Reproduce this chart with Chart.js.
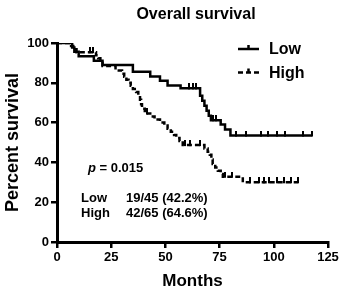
<!DOCTYPE html>
<html>
<head>
<meta charset="utf-8">
<script src="https://cdn.jsdelivr.net/npm/chart.js@4"></script>
<style>
  body { margin: 0; background: #fff; }
  canvas { display: block; }
</style>
</head>
<body>
<canvas id="chartSurvival" width="344" height="292"></canvas>
<script>
const FONT = "'Liberation Sans', Arial, sans-serif";

// Kaplan-Meier steps
const lowMonths = [0, 7, 8, 10, 17, 21, 35, 43, 47.5, 51, 57, 66, 67, 68, 69, 70, 71, 75.5, 77.5, 80, 117.5];
const lowSurvival = [100, 97.8, 95.6, 93.3, 91.1, 88.9, 85.6, 83.2, 81, 78.7, 77.2, 73.5, 71, 68.5, 66, 63.5, 61.2, 59, 56.5, 53.5, 53.5];
const lowCensorMonths = [61, 62.5, 64, 72, 73.5, 82.5, 87, 94, 97.5, 101.5, 105, 113.5, 117.5];

const highMonths = [0, 6.5, 7.5, 9, 18, 19, 20, 21, 27, 30, 31, 32, 33, 34, 35, 36.5, 37.5, 38.3, 38.8, 39.2,
  40.5, 43, 45, 47.5, 49.5, 51, 52.5, 54, 55, 56.5, 58, 68, 69.5, 70.5, 71.2, 71.8, 73, 74.2, 75.5, 76.5, 85.7, 111];
const highSurvival = [100, 98.5, 96.9, 95.4, 93.8, 92.3, 90.8, 88.5, 86.2, 84.6, 83.1, 81.5, 80, 78.5, 76.9, 75.4, 73.8, 71.5, 69.2, 66.9,
  64.6, 63.1, 61.5, 60, 58.5, 56.9, 55.4, 53.8, 52.3, 50.8, 48.7, 47, 45.4, 43.8, 41.5, 39.2, 37.5, 35.8, 34.2, 32.8, 30, 30];
const highCensorMonths = [15, 16.5, 41.5, 59, 61.5, 66, 77.5, 80.5, 89, 93, 95.5, 98, 101.5, 104.5, 108, 111];

const groupNames = ['Low', 'High'];
const groupCounts = ['19/45 (42.2%)', '42/65 (64.6%)'];
const pValue = '0.015';

function toPoints(xs, ys) {
  return xs.map((x, i) => ({x: x, y: ys[i]}))
}

function survivalAt(months, surv, t) {
  let v = surv[0]
  for (var i = 0; i < months.length; i++) {
    if (months[i] <= t) v = surv[i]
  }
  return v
}

function censorPoints(censor, months, surv) {
  return censor.map(t => ({x: t, y: survivalAt(months, surv, t)}))
}

// censor mark: a short tick pointing up from the curve
const tickMark = document.createElement('canvas')
tickMark.width = 2
tickMark.height = 10
const tctx = tickMark.getContext('2d')
tctx.fillStyle = '#000'
tctx.fillRect(0, 0, 2, 6)

const textPlugin = {
  id: 'survivalText',
  afterDraw(chart) {
    const ctx = chart.ctx
    const area = chart.chartArea
    ctx.save()
    ctx.fillStyle = '#000'
    ctx.strokeStyle = '#000'

    // title
    ctx.font = 'bold 16px ' + FONT
    ctx.textAlign = 'center'
    ctx.textBaseline = 'middle'
    ctx.fillText('Overall survival', 196, 15)

    // axis titles
    ctx.font = 'bold 17px ' + FONT
    ctx.fillText('Months', (area.left + area.right) / 2, 281)
    ctx.save()
    ctx.translate(13, (area.top + area.bottom) / 2)
    ctx.rotate(-Math.PI / 2)
    ctx.font = 'bold 18px ' + FONT
    ctx.fillText('Percent survival', 0, 0)
    ctx.restore()

    // legend
    ctx.lineWidth = 2.5
    ctx.textAlign = 'left'
    const rows = [49, 72.5]
    rows.forEach((y, i) => {
      ctx.setLineDash(i === 0 ? [] : [5, 3])
      ctx.beginPath()
      ctx.moveTo(238, y)
      ctx.lineTo(259, y)
      ctx.stroke()
      ctx.setLineDash([])
      ctx.beginPath()
      ctx.moveTo(248.5, y - 4)
      ctx.lineTo(248.5, y)
      ctx.stroke()
      ctx.font = 'bold 16px ' + FONT
      ctx.fillText(groupNames[i], 269, y + 1)
    })

    // p value and counts
    ctx.font = 'italic bold 13px ' + FONT
    ctx.fillText('p', 88, 168)
    const pw = ctx.measureText('p').width
    ctx.font = 'bold 13px ' + FONT
    ctx.fillText(' = ' + pValue, 88 + pw, 168)
    ctx.fillText(groupNames[0], 81, 198)
    ctx.fillText(groupCounts[0], 126, 198)
    ctx.fillText(groupNames[1], 81, 213)
    ctx.fillText(groupCounts[1], 126, 213)
    ctx.restore()
  }
}

const tickFont = {family: FONT, size: 13, weight: 'bold'}

new Chart(document.getElementById('chartSurvival'), {
  type: 'line',
  data: {
    datasets: [
      {
        label: 'Low',
        data: toPoints(lowMonths, lowSurvival),
        borderColor: '#000',
        borderWidth: 2.5,
        stepped: 'before',
        pointRadius: 0,
        fill: false
      },
      {
        label: 'High',
        data: toPoints(highMonths, highSurvival),
        borderColor: '#000',
        borderWidth: 2.5,
        borderDash: [5, 3],
        stepped: 'before',
        pointRadius: 0,
        fill: false
      },
      {
        label: 'Low censored',
        data: censorPoints(lowCensorMonths, lowMonths, lowSurvival),
        showLine: false,
        pointStyle: tickMark,
        pointRadius: 4
      },
      {
        label: 'High censored',
        data: censorPoints(highCensorMonths, highMonths, highSurvival),
        showLine: false,
        pointStyle: tickMark,
        pointRadius: 4
      }
    ]
  },
  options: {
    responsive: false,
    animation: false,
    layout: {padding: {top: 43, right: 16, left: 0, bottom: 0}},
    plugins: {
      legend: {display: false},
      title: {display: false},
      tooltip: {enabled: false}
    },
    scales: {
      x: {
        type: 'linear',
        min: 0,
        max: 125,
        afterFit: (scale) => { scale.height = 50 },
        border: {display: true, color: '#000', width: 3},
        grid: {drawOnChartArea: false, drawTicks: true, tickLength: 6, color: '#000', lineWidth: 2.5},
        ticks: {stepSize: 25, color: '#000', font: tickFont, padding: 2, maxRotation: 0}
      },
      y: {
        min: 0,
        max: 100,
        afterFit: (scale) => { scale.width = 57 },
        border: {display: true, color: '#000', width: 3},
        grid: {drawOnChartArea: false, drawTicks: true, tickLength: 6, color: '#000', lineWidth: 2.5},
        ticks: {stepSize: 20, color: '#000', font: tickFont, padding: 2}
      }
    }
  },
  plugins: [textPlugin]
});
</script>
</body>
</html>
